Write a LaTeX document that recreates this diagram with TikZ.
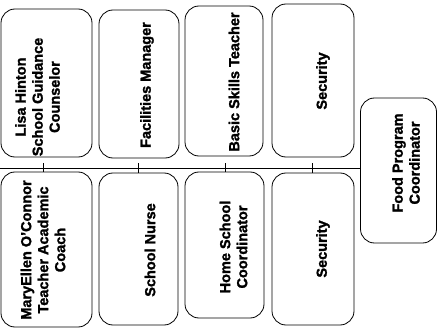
\documentclass[tikz,border=0pt]{standalone}
\usepackage{fontspec}
\setmainfont{Liberation Sans}[BoldFeatures={FakeBold=1.6}]
\begin{document}
\begin{tikzpicture}[x=1pt,y=-1pt,
  box/.style={draw=black, line width=0.8pt, rounded corners=14pt, inner sep=0pt},
  lbl/.style={rotate=90, align=center, inner sep=0pt, font=\bfseries\fontsize{14.5}{17}\selectfont},
  conn/.style={draw=black, line width=0.9pt}]
\useasboundingbox (0,0) rectangle (437,329);
% top row
\node[box, minimum width=91pt, minimum height=148pt] (lisa) at (46.5,83) {};
\node[box, minimum width=80pt, minimum height=148pt] (fac) at (139,84) {};
\node[box, minimum width=78pt, minimum height=150pt] (basic) at (224,81) {};
\node[box, minimum width=82pt, minimum height=153pt] (sec1) at (313,80.5) {};
% bottom row
\node[box, minimum width=91pt, minimum height=155pt] (mary) at (46.5,249.5) {};
\node[box, minimum width=79pt, minimum height=152pt] (nurse) at (138.5,249) {};
\node[box, minimum width=79pt, minimum height=146pt] (home) at (224.5,245) {};
\node[box, minimum width=82pt, minimum height=152pt] (sec2) at (313,249) {};
% food
\node[box, minimum width=76pt, minimum height=145pt] (food) at (398.5,170.5) {};
% labels
\node[lbl] (tlisa) at (37.5,97) {Lisa Hinton\\School Guidance\\Counselor};
\node[lbl] (tfac) at (147,85) {Facilities Manager};
\node[lbl] (tbasic) at (234,82) {Basic Skills Teacher};
\node[lbl] (tsec1) at (323,81) {Security};
\node[lbl] (tmary) at (43,250) {MaryEllen O'Connor\\Teacher Academic\\Coach};
\node[lbl] (tnurse) at (150,250) {School Nurse};
\node[lbl] (thome) at (233.5,247) {Home School\\Coordinator};
\node[lbl] (tsec2) at (323,249) {Security};
\node[lbl] (tfood) at (406,163) {Food Program\\Coordinator};
% connectors
\coordinate (start) at (0,168);
\draw[conn] (start) -- (food.west |- start);
\foreach \xx/\n in {43/mary,138/nurse,225/home,312/sec2}{
  \coordinate (t\n) at (\xx,163);
  \draw[conn] (t\n) -- (t\n |- \n.north);
}
\end{tikzpicture}
\end{document}
